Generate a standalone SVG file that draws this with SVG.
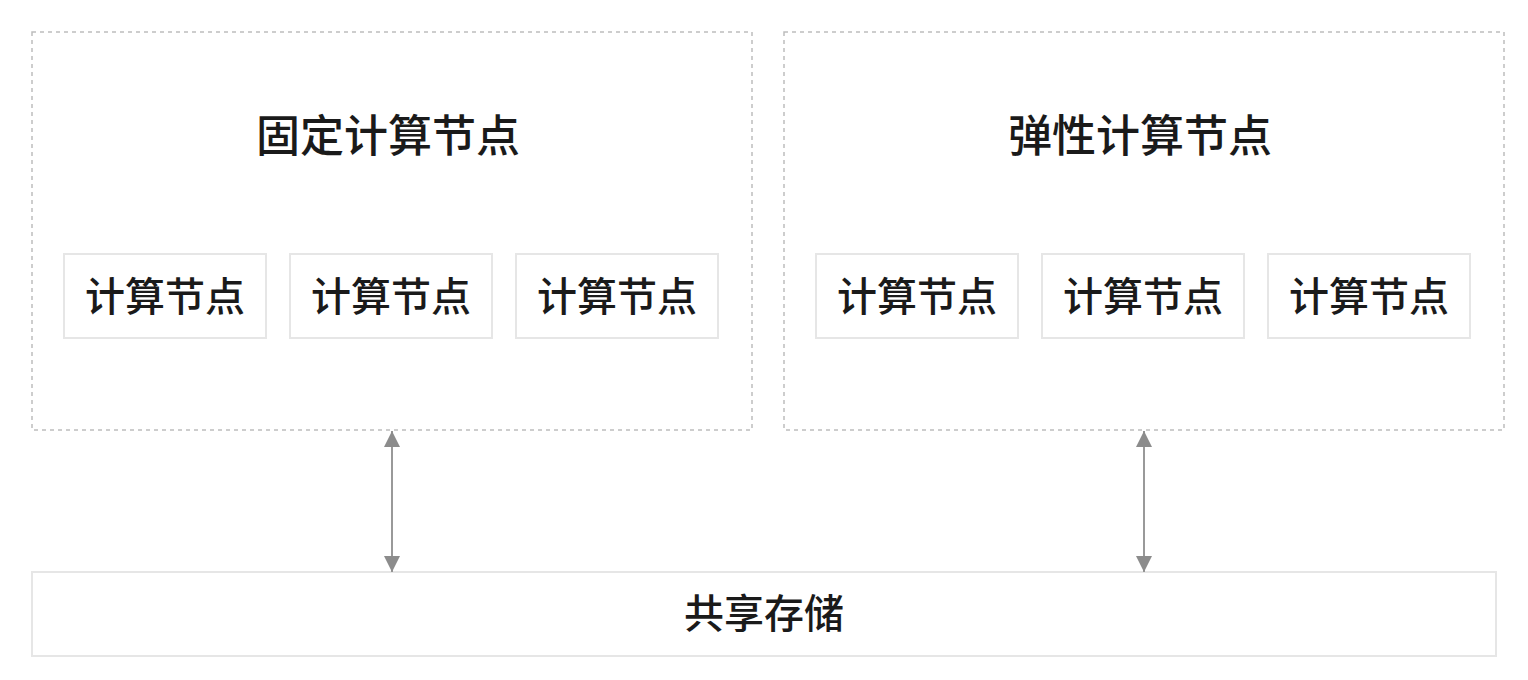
<svg xmlns="http://www.w3.org/2000/svg" width="1528" height="680" viewBox="0 0 1528 680">
<style>
.bg{fill:#ffffff}
.group{fill:#ffffff;stroke:#bdbdbd;stroke-width:1.5;stroke-dasharray:4 4}
.box{fill:#ffffff;stroke:#e6e6e6;stroke-width:2}
.title{font-family:"Noto Sans CJK SC","Noto Sans",sans-serif;font-size:44px;font-weight:500;fill:#1a1a1a;text-anchor:middle;dominant-baseline:central}
.label{font-family:"Noto Sans CJK SC","Noto Sans",sans-serif;font-size:40px;font-weight:500;fill:#1a1a1a;text-anchor:middle;dominant-baseline:central}
.conn{stroke:#999999;stroke-width:2;fill:none;marker-start:url(#ah);marker-end:url(#ah)}
</style>
<defs>
<marker id="ah" viewBox="0 0 10 10" refX="10" refY="5" markerWidth="16" markerHeight="16" markerUnits="userSpaceOnUse" orient="auto-start-reverse">
<path d="M0,0 L10,5 L0,10 z" fill="#8c8c8c"/>
</marker>
</defs>
<rect class="bg" x="0" y="0" width="1528" height="680"/>
<g id="fixed-group">
<rect class="group" x="32" y="32" width="720" height="398"/>
<text class="title" x="388" y="133">固定计算节点</text>
</g>
<g id="elastic-group">
<rect class="group" x="784" y="32" width="720" height="398"/>
<text class="title" x="1140" y="133">弹性计算节点</text>
</g>
<g id="fixed-node-1"><rect class="box" x="64" y="254" width="202" height="84"/><text class="label" x="165" y="294">计算节点</text></g>
<g id="fixed-node-2"><rect class="box" x="290" y="254" width="202" height="84"/><text class="label" x="391" y="294">计算节点</text></g>
<g id="fixed-node-3"><rect class="box" x="516" y="254" width="202" height="84"/><text class="label" x="617" y="294">计算节点</text></g>
<g id="elastic-node-1"><rect class="box" x="816" y="254" width="202" height="84"/><text class="label" x="917" y="294">计算节点</text></g>
<g id="elastic-node-2"><rect class="box" x="1042" y="254" width="202" height="84"/><text class="label" x="1143" y="294">计算节点</text></g>
<g id="elastic-node-3"><rect class="box" x="1268" y="254" width="202" height="84"/><text class="label" x="1369" y="294">计算节点</text></g>
<g id="shared-storage"><rect class="box" x="32" y="572" width="1464" height="84"/><text class="label" x="764" y="611">共享存储</text></g>
<g id="connectors">
<line class="conn" x1="392" y1="431" x2="392" y2="572"/>
<line class="conn" x1="1144" y1="431" x2="1144" y2="572"/>
</g>
</svg>
